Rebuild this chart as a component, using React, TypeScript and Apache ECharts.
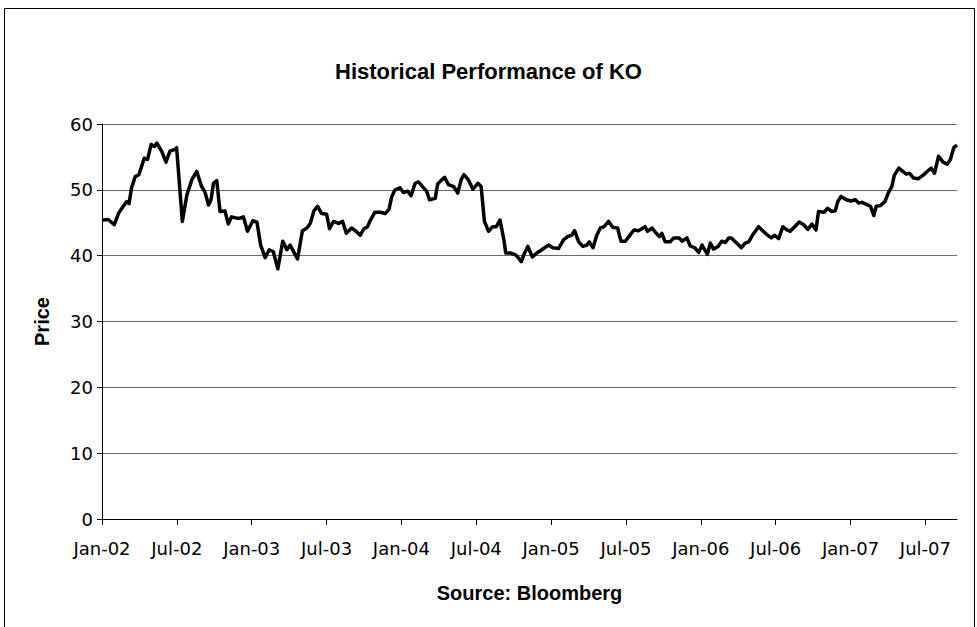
import React, { useEffect, useRef } from "react";
import * as echarts from "echarts";

// Weekly closing prices of KO.
// dayOffsets: days since 1 Jan 2002.
const dayOffsets = [
  1, 15, 30, 40, 52, 60, 66, 72, 81, 90, 103, 111, 120, 128, 134, 146, 156, 166, 177, 182,
  196, 207, 219, 231, 243, 251, 260, 266, 272, 280, 288, 300, 308, 316, 329,
  337, 345, 355, 368, 378, 387, 398, 408, 418, 429, 441, 451, 459, 477, 489, 500, 508, 517, 526, 536,
  548, 555, 565, 577, 587, 596, 609, 618, 630, 639, 648, 654, 666, 679,
  691, 700, 707, 715, 727, 735, 746, 754, 764, 772, 782, 792, 799, 813, 819, 827, 836, 845, 858, 868,
  876, 883, 894, 905, 917, 925, 933, 943, 953, 962, 971, 980, 985, 998, 1010, 1023, 1031, 1039, 1050,
  1061, 1073, 1089, 1100, 1114, 1126, 1136, 1146, 1153, 1163, 1173, 1183, 1189, 1198, 1207, 1216, 1225, 1236, 1246, 1258,
  1266, 1277, 1289, 1298, 1309, 1317, 1325, 1331, 1342, 1352, 1360, 1366, 1374, 1386, 1395,
  1408, 1416, 1427, 1435, 1446, 1456, 1464, 1477, 1484, 1492, 1503, 1512, 1521, 1529, 1535, 1547, 1560, 1569, 1578, 1587,
  1594, 1602, 1612, 1622, 1633, 1641, 1651, 1661, 1671, 1679, 1690, 1701, 1712, 1722, 1732, 1742, 1748,
  1762, 1770, 1781, 1789, 1795, 1803, 1816, 1827, 1838, 1846, 1854, 1865, 1875, 1883, 1889, 1899, 1910, 1919, 1927, 1933,
  1944, 1954, 1962, 1970, 1980, 1992, 2005, 2017, 2023, 2031, 2041, 2052, 2062, 2070, 2078, 2086,
];

const prices = [
  45.4, 45.5, 44.7, 46.4, 47.5, 48.2, 47.9, 50.3, 52.0, 52.3, 54.8, 54.6, 56.9, 56.6, 57.1, 55.8, 54.2, 55.9, 56.1, 56.4,
  45.2, 49.2, 51.5, 52.8, 50.5, 49.7, 47.7, 48.5, 51.0, 51.4, 46.7, 46.8, 44.8, 45.9, 45.7,
  45.7, 45.9, 43.7, 45.3, 45.1, 41.6, 39.7, 40.9, 40.6, 38.0, 42.2, 40.9, 41.6, 39.5, 43.8, 44.2, 44.9, 46.8, 47.5, 46.4,
  46.3, 44.1, 45.2, 44.9, 45.2, 43.4, 44.2, 43.8, 43.1, 44.1, 44.4, 45.3, 46.6, 46.6,
  46.4, 47.0, 49.0, 50.0, 50.3, 49.6, 49.8, 49.1, 51.0, 51.2, 50.5, 49.8, 48.5, 48.7, 50.9, 51.4, 51.9, 50.8, 50.5, 49.5,
  51.5, 52.3, 51.5, 50.1, 51.0, 50.5, 45.2, 43.7, 44.4, 44.4, 45.4, 42.6, 40.4, 40.4, 40.1, 39.1, 40.4, 41.4, 39.8,
  40.4, 40.9, 41.6, 41.2, 41.1, 42.4, 42.9, 43.1, 43.8, 42.1, 41.4, 41.6, 42.1, 41.2, 43.1, 44.2, 44.4, 45.2, 44.3, 44.2,
  42.2, 42.2, 43.2, 43.9, 43.8, 44.1, 44.4, 43.7, 44.2, 43.4, 42.9, 43.4, 42.1, 42.1, 42.7,
  42.7, 42.2, 42.7, 41.5, 41.2, 40.5, 41.6, 40.2, 41.9, 41.0, 41.4, 42.2, 42.0, 42.7, 42.7, 42.0, 41.2, 41.9, 42.1, 43.1,
  43.7, 44.4, 43.8, 43.2, 42.7, 43.1, 42.6, 44.4, 43.9, 43.7, 44.4, 45.1, 44.7, 44.0, 44.8, 43.9, 46.7,
  46.6, 47.2, 46.7, 46.8, 48.2, 49.0, 48.5, 48.3, 48.5, 48.0, 48.1, 47.8, 47.5, 46.1, 47.5, 47.6, 48.2, 49.6, 50.5, 52.2,
  53.3, 52.8, 52.4, 52.5, 51.8, 51.7, 52.3, 53.0, 53.3, 52.5, 55.1, 54.2, 53.9, 54.6, 56.4, 56.8,
];

// x-axis ticks every 6 months from Jan 2002
const tickMonths = [0, 6, 12, 18, 24, 30, 36, 42, 48, 54, 60, 66];
const tickLabels = [
  "Jan-02", "Jul-02", "Jan-03", "Jul-03", "Jan-04", "Jul-04",
  "Jan-05", "Jul-05", "Jan-06", "Jul-06", "Jan-07", "Jul-07",
];
const yMin = 0;
const yMax = 60;
const yStep = 10;

const titleText = "Historical Performance of KO";
const yName = "Price";
const xName = "Source: Bloomberg";

const DAYS_PER_MONTH = 30.4375;

export default function App() {
  const ref = useRef<HTMLDivElement>(null);

  useEffect(() => {
    document.body.style.margin = "0";
    if (!ref.current) return;
    const chart = echarts.init(ref.current, undefined, { renderer: "svg" });
    const data = dayOffsets.map((d, i) => [d / DAYS_PER_MONTH, prices[i]]);
    const xMax = dayOffsets[dayOffsets.length - 1] / DAYS_PER_MONTH;

    chart.setOption({
      animation: false,
      backgroundColor: "#ffffff",
      title: {
        text: titleText,
        left: "center",
        top: 55,
        textStyle: {
          fontFamily: "Liberation Sans, Arial, sans-serif",
          fontWeight: "bold",
          fontSize: 22,
          color: "#000",
        },
      },
      graphic: [
        {
          type: "rect",
          shape: { x: 4.5, y: 8.5, width: 970, height: 650 },
          style: { fill: "none", stroke: "#000", lineWidth: 1 },
          silent: true,
        },
      ],
      grid: { left: 102, right: 20, top: 124, bottom: 108, containLabel: false },
      xAxis: {
        type: "value",
        min: 0,
        max: xMax,
        name: xName,
        nameLocation: "middle",
        nameGap: 64,
        nameTextStyle: {
          fontFamily: "Liberation Sans, Arial, sans-serif",
          fontWeight: "bold",
          fontSize: 20,
          color: "#000",
        },
        axisLine: { show: true, lineStyle: { color: "#000", width: 1 } },
        axisTick: {
          show: true,
          length: 6,
          lineStyle: { color: "#000" },
          customValues: tickMonths,
        },
        axisLabel: {
          customValues: tickMonths,
          margin: 20,
          fontFamily: "DejaVu Sans, Verdana, sans-serif",
          fontSize: 18,
          color: "#000",
          formatter: (v: number) => tickLabels[Math.round(v / 6)] ?? "",
        },
        splitLine: { show: false },
      },
      yAxis: {
        type: "value",
        min: yMin,
        max: yMax,
        interval: yStep,
        name: yName,
        nameLocation: "middle",
        nameGap: 50,
        nameRotate: 90,
        nameTextStyle: {
          fontFamily: "Liberation Sans, Arial, sans-serif",
          fontWeight: "bold",
          fontSize: 20,
          color: "#000",
        },
        axisLine: { show: true, lineStyle: { color: "#000", width: 1 } },
        axisTick: { show: true, length: 5, lineStyle: { color: "#000" } },
        axisLabel: {
          margin: 9,
          fontFamily: "DejaVu Sans, Verdana, sans-serif",
          fontSize: 18,
          color: "#000",
        },
        splitLine: { show: true, lineStyle: { color: "#6a6a6a", width: 1 } },
      },
      series: [
        {
          type: "line",
          data,
          showSymbol: false,
          symbol: "none",
          silent: true,
          lineStyle: { color: "#000", width: 3.5, join: "round" },
        },
      ],
    });

    return () => {
      chart.dispose();
    };
  }, []);

  return <div ref={ref} style={{ width: 977, height: 627 }} />;
}
